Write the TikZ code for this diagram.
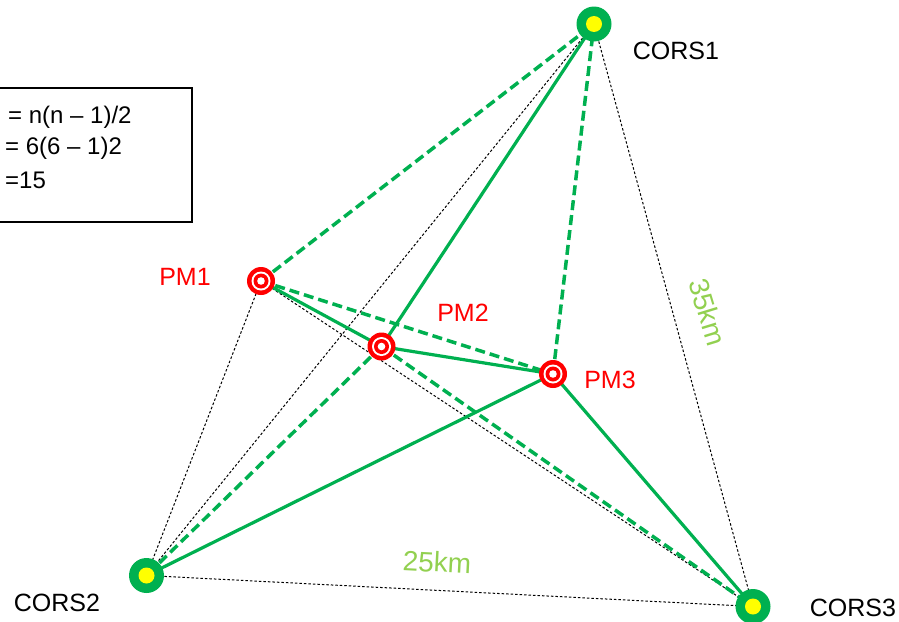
\documentclass[tikz,border=0pt]{standalone}
\usepackage{fontspec}
\setmainfont{Liberation Sans}
\usetikzlibrary{backgrounds}
\definecolor{cgreen}{HTML}{00B050}
\definecolor{lgreen}{HTML}{92D050}
\definecolor{cyellow}{HTML}{FFFF00}
\definecolor{cred}{HTML}{FF0000}
\tikzset{
  lbl/.style={font=\fontsize{25}{30}\selectfont, inner sep=0pt},
  boxtxt/.style={font=\fontsize{24}{28}\selectfont, inner sep=0pt},
  distlbl/.style={font=\fontsize{28}{32}\selectfont, inner sep=0pt, text=lgreen},
  corsmark/.style={circle, fill=cgreen, minimum size=35pt, inner sep=0pt,
    path picture={\fill[cyellow] (path picture bounding box.center) circle (8pt);}},
  pmmark/.style={circle, fill=cred, minimum size=28pt, inner sep=0pt,
    path picture={
      \fill[white] (path picture bounding box.center) circle (9.5pt);
      \fill[cred] (path picture bounding box.center) circle (7.5pt);
      \fill[white] (path picture bounding box.center) circle (3.8pt);}},
  gsolid/.style={draw=cgreen, line width=3.2pt},
  gdash/.style={draw=cgreen, line width=3.5pt, dash pattern=on 10pt off 5pt},
  kdot/.style={draw=black, line width=1pt, dash pattern=on 2.5pt off 2pt},
}
\begin{document}
\begin{tikzpicture}[x=1pt,y=-1pt]
\useasboundingbox (0,0) rectangle (899,621);
\clip (0,0) rectangle (899,621);
% formula box
\draw[line width=1.5pt] (-5,88) rectangle (192,222);
\node[boxtxt, anchor=west] (f1) at (8,117) {= n(n – 1)/2};
\node[boxtxt, anchor=west] (f2) at (5,148) {= 6(6 – 1)2};
\node[boxtxt, anchor=west] (f3) at (5,180) {=15};
% stations
\node[corsmark] (C1) at (594,24) {};
\node[corsmark] (C2) at (146.5,575.5) {};
\node[corsmark] (C3) at (753,606.5) {};
\node[pmmark] (P1) at (261,281) {};
\node[pmmark] (P2) at (381.5,346.5) {};
\node[pmmark] (P3) at (553,374) {};
% labels
\node[lbl] (L1) at (676,51) {CORS1};
\node[lbl] (L2) at (57,603) {CORS2};
\node[lbl] (L3) at (853,608) {CORS3};
\node[lbl, text=cred] (LP1) at (185,277) {PM1};
\node[lbl, text=cred] (LP2) at (463,313) {PM2};
\node[lbl, text=cred] (LP3) at (610,380) {PM3};
\node[distlbl, rotate=-73] (d35) at (708,312) {35km};
\node[distlbl, rotate=-3] (d25) at (437,562) {25km};
% connectors
\begin{scope}[on background layer]
\draw[kdot] (C1.center) -- (C3.center);
\draw[kdot] (C2.center) -- (C3.center);
\draw[kdot] (C1.center) -- (C2.center);
\draw[kdot] (P1.center) -- (C2.center);
\draw[kdot] (P1.center) -- (C3.center);
\draw[gsolid] (P1.center) -- (P2.center);
\draw[gsolid] (P2.center) -- (P3.center);
\draw[gsolid] (P2.center) -- (C1.center);
\draw[gsolid] (P3.center) -- (C2.center);
\draw[gsolid] (P3.center) -- (C3.center);
\draw[gdash] (P1.center) -- (C1.center);
\draw[gdash] (P1.center) -- (P3.center);
\draw[gdash] (P3.center) -- (C1.center);
\draw[gdash] (P2.center) -- (C2.center);
\draw[gdash] (P2.center) -- (C3.center);
\end{scope}
\end{tikzpicture}
\end{document}
